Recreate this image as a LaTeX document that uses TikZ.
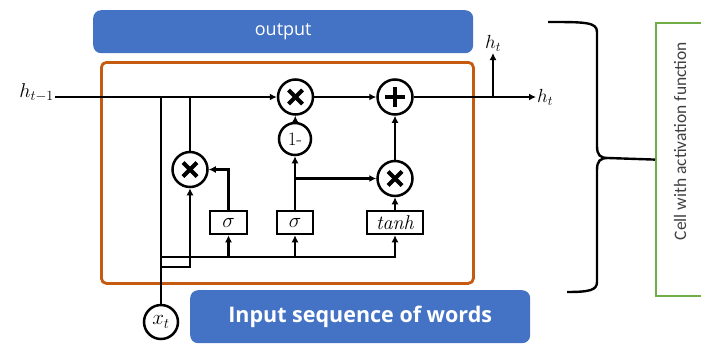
\RequirePackage{fix-cm}
\documentclass[tikz,border=0pt]{standalone}
\usepackage{fontspec}
\usetikzlibrary{arrows.meta}
\newfontfamily\opensans{Open Sans}
\newfontfamily\carlito{Carlito}
\definecolor{boxblue}{RGB}{68,114,196}
\definecolor{cellorange}{RGB}{197,90,17}
\definecolor{cellgreen}{RGB}{112,173,71}
\begin{document}
\begin{tikzpicture}[x=1pt,y=-1pt,
  conn/.style={line width=2.5pt},
  arr/.style={conn,-{Latex[length=7pt,width=7pt]}},
  opc/.style={circle,draw,line width=2.5pt,minimum size=35pt,inner sep=0pt},
  gatebox/.style={draw,line width=2.5pt,minimum height=23pt,inner sep=0pt,font=\fontsize{21}{21}\selectfont},
  crossline/.style={line width=4pt},
  bluebox/.style={fill=boxblue,rounded corners=8pt,inner sep=0pt,anchor=north west,text=white}
  ]
\useasboundingbox (0,0) rectangle (701,343);
% boxes
\node[bluebox,minimum width=380pt,minimum height=43pt,font=\opensans\fontsize{18}{18}\selectfont] (outbox) at (93,10) {output};
\node[draw=cellorange,line width=2.8pt,rounded corners=5pt,minimum width=372pt,minimum height=221pt,anchor=north west,inner sep=0pt] (cell) at (100,61) {};
\node[bluebox,minimum width=340pt,minimum height=53pt,font=\opensans\bfseries\fontsize{21.5}{21.5}\selectfont] (inbox) at (190,290) {Input sequence of words};
% operation circles
\node[opc] (m1) at (295.5,97) {};
\node[opc] (pl) at (395,97) {};
\node[opc,minimum size=32pt,font=\fontsize{19}{19}\selectfont] (om) at (295,139) {1-};
\node[opc] (m3) at (190,169.5) {};
\node[opc] (m2) at (395,178.5) {};
\node[opc,minimum size=34pt,font=\fontsize{21}{21}\selectfont] (xt) at (161,322) {$x_t$};
\foreach \n in {m1,m2,m3}{
  \draw[crossline] ([shift={(-7,-7)}]\n.center) -- ([shift={(7,7)}]\n.center);
  \draw[crossline] ([shift={(-7,7)}]\n.center) -- ([shift={(7,-7)}]\n.center);
}
\draw[crossline] ([xshift=-10pt]pl.center) -- ([xshift=10pt]pl.center);
\draw[crossline] ([yshift=-10pt]pl.center) -- ([yshift=10pt]pl.center);
% gate boxes
\node[gatebox,minimum width=37pt] (s1) at (228.5,222.5) {$\sigma$};
\node[gatebox,minimum width=36pt] (s2) at (295,222.5) {$\sigma$};
\node[gatebox,minimum width=56pt,font=\fontsize{20}{20}\selectfont] (th) at (395,222.5) {\textit{tanh}};
% labels
\node[anchor=base east,inner sep=1pt,font=\fontsize{20}{20}\selectfont] (hprev) at (55,97) {$h_{t-1}$};
\node[anchor=west,inner sep=1pt,font=\fontsize{19}{19}\selectfont] (hright) at (536,97) {$h_t$};
\node[anchor=south,inner sep=1pt,font=\fontsize{19}{19}\selectfont] (htop) at (493,53) {$h_t$};
% coordinates
\coordinate (jr) at (493,97);
\coordinate (j1) at (161,97);
\coordinate (j2) at (190,97);
\coordinate (b0) at (161,257);
\coordinate (b1) at (161,267);
\coordinate (sb) at (295,178.5);
% connectors
\draw[arr] (hprev.base east) -- (m1.west);
\draw[arr] (m1) -- (pl);
\draw[arr] (pl) -- (hright.west);
\draw[arr] (jr) -- (htop.south);
\draw[arr] (om) -- (m1);
\draw[arr] (m2) -- (pl);
\draw[arr] (th) -- (m2);
\draw[arr] (s2) -- (om);
\draw[arr] (sb) -- (m2);
\draw[arr] (s1.north) |- (m3.east);
\draw[conn] (j2) -- (m3.north);
\draw[conn] (j1) -- (xt.north);
\draw[arr] (b0) -| (th.south);
\draw[arr] (s1.south |- b0) -- (s1.south);
\draw[arr] (s2.south |- b0) -- (s2.south);
\draw[arr] (b1) -| (m3.south);
% brace and side box
\coordinate (btip) at (608,158);
\draw[line width=2.4pt] (548,22) .. controls (585,22) and (597,22) .. (597,32) -- (597,146) .. controls (597,155) and (600,158) .. (btip) .. controls (600,158) and (597,161) .. (597,170) -- (597,282) .. controls (597,290) and (590,292) .. (567,292);
\node[draw=cellgreen,line width=2.2pt,minimum width=60pt,minimum height=273pt,anchor=north west,inner sep=0pt] (cellbox) at (655,22) {};
\draw[line width=2.4pt] (btip) -- (cellbox.west);
\node[rotate=90,font=\carlito\fontsize{17.5}{17.5}\selectfont,text=black!75] (celltext) at (680,141) {Cell with activation function};
\end{tikzpicture}
\end{document}
